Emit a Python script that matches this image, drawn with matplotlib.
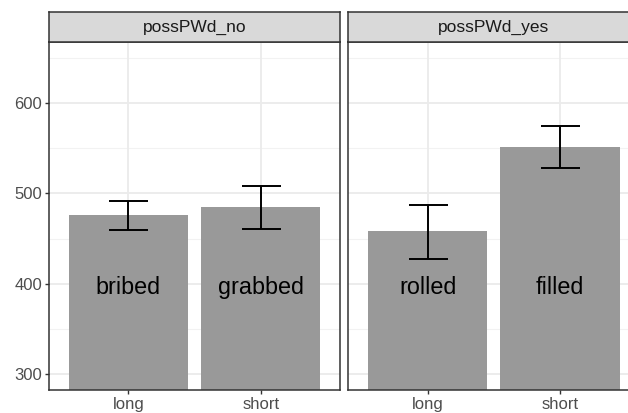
import matplotlib
matplotlib.use("Agg")
import matplotlib.pyplot as plt
from matplotlib.transforms import offset_copy

plt.rcParams['font.family'] = ['Liberation Sans', 'DejaVu Sans']

panels = ["possPWd_no", "possPWd_yes"]
categories = ["long", "short"]
means = {"possPWd_no": [476, 485], "possPWd_yes": [458, 551]}
err_low = {"possPWd_no": [459.5, 460.5], "possPWd_yes": [427.7, 528]}
err_high = {"possPWd_no": [491.8, 507.7], "possPWd_yes": [487.4, 574.4]}
words = {"possPWd_no": ["bribed", "grabbed"], "possPWd_yes": ["rolled", "filled"]}
yticks = [300, 400, 500, 600]
yminor = [350, 450, 550, 650]
label_y = 400

W, H = 628, 413
fig = plt.figure(figsize=(W / 100, H / 100), dpi=100)

panel_x = [(49, 340.3), (348.3, 639.4)]
ptop, pbot = 42, 390
strip_top = 12

for i, p in enumerate(panels):
    x0, x1 = panel_x[i]
    ax = fig.add_axes([x0 / W, 1 - pbot / H, (x1 - x0) / W, (pbot - ptop) / H])
    ax.set_facecolor('white')
    xs = list(range(len(categories)))
    ax.set_xlim(-0.6, len(categories) - 0.4)
    ax.set_ylim(282.5, 667.5)
    for y in yminor:
        ax.axhline(y, color='#F2F2F2', lw=0.8, zorder=0)
    for y in yticks:
        ax.axhline(y, color='#EBEBEB', lw=1.3, zorder=0)
    for x in xs:
        ax.axvline(x, color='#EBEBEB', lw=1.3, zorder=0)
    ax.bar(xs, means[p], width=0.9, color='#999999', zorder=2)
    m = means[p]
    lo = [mm - l for mm, l in zip(m, err_low[p])]
    hi = [h - mm for mm, h in zip(m, err_high[p])]
    ax.errorbar(xs, m, yerr=[lo, hi], fmt='none', ecolor='black', elinewidth=1.4,
                capsize=19.5 * 0.72, capthick=1.4, zorder=3)
    tr = offset_copy(ax.transData, fig=fig, x=0, y=-3.5, units='dots')
    for x, w in zip(xs, words[p]):
        ax.text(x, label_y, w, ha='center', va='center', fontsize=16.8, color='black',
                zorder=4, transform=tr)
    ax.set_xticks(xs)
    ax.set_xticklabels(categories)
    ax.set_yticks(yticks)
    if i == 0:
        ax.set_yticklabels([str(t) for t in yticks])
    else:
        ax.tick_params(axis='y', left=False, labelleft=False)
    ax.tick_params(axis='both', colors='#333333', labelcolor='#4D4D4D', labelsize=12,
                   length=3, width=1, pad=2)
    for s in ax.spines.values():
        s.set_color('#333333')
        s.set_linewidth(1.1)
    # strip
    sax = fig.add_axes([x0 / W, 1 - ptop / H, (x1 - x0) / W, (ptop - strip_top) / H])
    sax.set_facecolor('#D9D9D9')
    sax.set_xticks([])
    sax.set_yticks([])
    for s in sax.spines.values():
        s.set_color('#333333')
        s.set_linewidth(1.1)
    sax.text(0.5, 0.5, p, ha='center', va='center', fontsize=12.5, color='#1A1A1A',
             transform=sax.transAxes)

fig.savefig("out.png", dpi=100)
